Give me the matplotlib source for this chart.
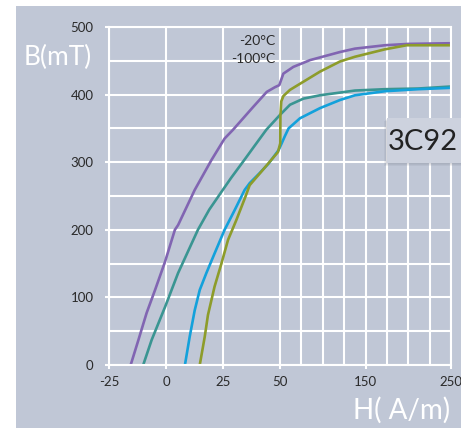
import numpy as np
import matplotlib.pyplot as plt
from matplotlib.patches import Rectangle

plt.rcParams['font.family'] = ['Lato', 'DejaVu Sans']

# B-H curves of 3C92 (H in A/m, B in mT)
purple_h = [-15.5, -12.1, -8.5, -4.8, -0.4, 3.9, 5.3, 12.6, 19.9, 25.7, 29.4, 38.3,
            44.2, 47.8, 49.7, 53.9, 65.6, 85.1, 120.2, 137.7, 172.8, 200, 250]
purple_b = [0, 37, 77, 111, 153, 200, 207, 259, 303, 335, 348, 382,
            404, 411, 414, 431, 441, 451, 463, 468, 473, 475, 476]

teal_h = [-10, -6.3, -0.4, 5.3, 14.0, 19.0, 24.3, 28.6, 34.5, 38.8, 44.0, 50,
          61.7, 77.3, 96.8, 120.2, 137.7, 172.8, 211.7, 250]
teal_b = [0, 37, 86, 136, 200, 230, 256, 277, 304, 324, 348, 370,
          385, 394, 399, 403, 406, 408, 409, 412]

blue_h = [8.3, 10.4, 12.6, 14.8, 17.7, 21.3, 25.7, 30.1, 34.5, 36.7, 41.1, 45.0,
          49.4, 52.0, 55.5, 60.0, 73.4, 96.8, 120.2, 137.7, 172.8, 211.7, 250]
blue_b = [0, 42, 81, 111, 136, 165, 200, 229, 259, 269, 284, 298,
          318, 328, 338, 350, 365, 380, 392, 399, 405, 408, 410]

olive_h = [14.8, 17.0, 18.4, 21.3, 24.3, 27.2, 30.8, 34.5, 36.7, 41.8, 49.1, 50.3,
           50.5, 51.5, 54.0, 61.7, 77.3, 96.8, 120.2, 137.7, 172.8, 198.2, 250]
olive_b = [0, 42, 74, 116, 150, 185, 214, 246, 266, 286, 315, 328,
           370, 390, 398, 407, 419, 434, 449, 456, 467, 473, 473]

x_labels = [-25, 0, 25, 50, 150, 250]
x_grid = [-25, 0, 25, 50, 75, 100, 125, 150, 175, 200, 225, 250]
y_labels = [0, 100, 200, 300, 400, 500]
y_grid = [50, 150, 250, 350, 450]

bg = '#c0c7d6'
text_col = '#2a2a2a'


# x axis is split: -25..50 fills the left half, 50..250 the right half
def fwd(h):
    h = np.asarray(h, dtype=float)
    return np.where(h < 50, (h + 25) / 75, 1 + (h - 50) / 200)


def inv(u):
    u = np.asarray(u, dtype=float)
    return np.where(u < 1, u * 75 - 25, 50 + (u - 1) * 200)


fig = plt.figure(figsize=(4.61, 4.28), dpi=100)
fig.patch.set_facecolor('white')
fig.patches.append(Rectangle((16 / 461, 0), 445 / 461, 422 / 428,
                             transform=fig.transFigure, facecolor=bg,
                             edgecolor='none', zorder=-10))

ax = fig.add_axes([109 / 461, 63 / 428, 342 / 461, 338 / 428])
ax.set_facecolor(bg)
ax.set_xscale('function', functions=(fwd, inv))
ax.set_xlim(-25, 250)
ax.set_ylim(0, 500)

ax.set_xticks(x_labels)
ax.set_xticks(x_grid, minor=True)
ax.set_yticks(y_labels)
ax.set_yticks(y_grid, minor=True)
ax.set_xticklabels([str(v) for v in x_labels])
ax.grid(True, which='both', color='white', linewidth=1.5)
ax.set_axisbelow(True)
for s in ax.spines.values():
    s.set_color('white')
    s.set_linewidth(1.5)
ax.tick_params(which='major', colors='white', length=3, width=1.5,
               labelcolor=text_col, labelsize=9.5)
ax.tick_params(axis='x', which='major', pad=5)
ax.tick_params(axis='y', which='major', pad=8)
ax.tick_params(which='minor', length=0)

ax.plot(purple_h, purple_b, color='#8165b2', lw=1.9, solid_joinstyle='round')
ax.plot(teal_h, teal_b, color='#3a9592', lw=1.9, solid_joinstyle='round')
ax.plot(blue_h, blue_b, color='#13a1db', lw=1.9, solid_joinstyle='round')
ax.plot(olive_h, olive_b, color='#8d9c2a', lw=1.9, solid_joinstyle='round')

fig.text(275 / 461, 387 / 428, '-20°C', ha='right', va='center',
         fontsize=10, color=text_col)
fig.text(275 / 461, 369 / 428, '-100°C', ha='right', va='center',
         fontsize=10, color=text_col)

fig.text(58 / 461, 371 / 428, 'B(mT)', ha='center', va='center',
         fontsize=19, color='white')
fig.text(402 / 461, 18 / 428, 'H( A/m)', ha='center', va='center',
         fontsize=20, color='white')

# material label box with a soft shadow
for i in range(3):
    d = (i + 1) * 1.0
    fig.patches.append(Rectangle(((387 - d) / 461, (265 - d) / 428), 80 / 461,
                                 45 / 428, transform=fig.transFigure,
                                 facecolor='#6f7585', alpha=0.10,
                                 edgecolor='none', zorder=3))
fig.patches.append(Rectangle((387 / 461, 265 / 428), 80 / 461, 45 / 428,
                             transform=fig.transFigure, facecolor='#cdd2de',
                             edgecolor='none', zorder=4))
fig.text(423 / 461, 286 / 428, '3C92', ha='center', va='center',
         fontsize=21, color='#222222', zorder=5)

fig.savefig('out.png', dpi=100, facecolor=fig.get_facecolor())
